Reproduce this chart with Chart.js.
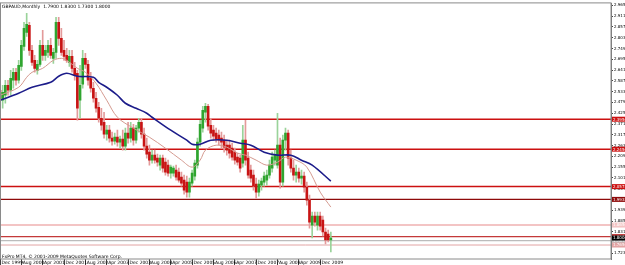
<!DOCTYPE html>
<html><head><meta charset="utf-8">
<script src="https://cdn.jsdelivr.net/npm/chart.js@4.4.0/dist/chart.umd.min.js"></script>
<style>html,body{margin:0;padding:0;background:#fff;}canvas{display:block;}</style>
</head><body>
<canvas id="c" width="625" height="265"></canvas>
<script>
const symbolTitle = 'GBPAUD,Monthly  1.7900 1.8300 1.7300 1.8000';
const footerText = 'FxPro MT4, \u00A9 2001-2009 MetaQuotes Software Corp.';
const monthNames = ['Jan','Feb','Mar','Apr','May','Jun','Jul','Aug','Sep','Oct','Nov','Dec'];
const months = [];
for (let k = 0; k < 230; k++) { const m = (11 + k) % 12; const yr = 1999 + Math.floor((11 + k) / 12); months.push(monthNames[m] + ' ' + yr); }

const open = [2.540,2.490,2.515,2.565,2.540,2.590,2.630,2.590,2.660,2.760,
2.830,2.865,2.740,2.690,2.640,2.670,2.765,2.715,2.730,2.765,
2.700,2.730,2.880,2.800,2.740,2.715,2.680,2.710,2.650,2.625,
2.490,2.570,2.700,2.670,2.600,2.550,2.500,2.455,2.400,2.380,
2.320,2.340,2.300,2.285,2.305,2.280,2.295,2.260,2.325,2.300,
2.350,2.290,2.350,2.380,2.320,2.260,2.230,2.190,2.215,2.200,
2.165,2.200,2.180,2.165,2.125,2.125,2.140,2.130,2.105,2.090,
2.080,2.030,2.075,2.110,2.165,2.280,2.350,2.430,2.460,2.365,
2.340,2.325,2.315,2.300,2.290,2.265,2.265,2.250,2.230,2.205,
2.200,2.175,2.290,2.200,2.140,2.115,2.070,2.030,2.065,2.080,
2.090,2.115,2.150,2.190,2.165,2.265,2.080,2.290,2.325,2.200,
2.150,2.115,2.130,2.100,2.110,2.055,1.990,1.865,1.910,1.865,
1.910,1.890,1.830,1.820,1.790];
const high = [2.630,2.565,2.590,2.590,2.640,2.650,2.650,2.690,2.790,2.880,
2.925,2.880,2.765,2.715,2.690,2.790,2.840,2.765,2.790,2.800,
2.750,2.905,2.905,2.850,2.790,2.750,2.740,2.740,2.680,2.640,
2.665,2.740,2.725,2.690,2.630,2.580,2.530,2.480,2.450,2.430,
2.365,2.365,2.330,2.325,2.340,2.310,2.340,2.350,2.380,2.380,
2.370,2.365,2.400,2.400,2.350,2.300,2.265,2.240,2.240,2.220,
2.215,2.215,2.200,2.190,2.165,2.160,2.165,2.150,2.130,2.115,
2.110,2.100,2.140,2.190,2.300,2.390,2.460,2.475,2.470,2.400,
2.365,2.350,2.340,2.330,2.315,2.290,2.290,2.275,2.250,2.225,
2.215,2.365,2.390,2.230,2.165,2.140,2.100,2.090,2.100,2.130,
2.140,2.190,2.230,2.240,2.425,2.300,2.315,2.350,2.340,2.240,
2.190,2.165,2.150,2.140,2.130,2.080,2.015,1.930,1.930,1.930,
1.930,1.910,1.850,1.840,1.830];
const low = [2.465,2.450,2.475,2.515,2.515,2.550,2.565,2.575,2.640,2.740,
2.810,2.715,2.665,2.630,2.620,2.660,2.690,2.690,2.705,2.700,
2.675,2.700,2.765,2.715,2.690,2.680,2.660,2.630,2.590,2.390,
2.400,2.550,2.650,2.565,2.530,2.480,2.430,2.380,2.340,2.300,
2.290,2.280,2.265,2.270,2.260,2.250,2.240,2.240,2.275,2.280,
2.265,2.275,2.330,2.300,2.240,2.200,2.165,2.175,2.175,2.160,
2.140,2.130,2.115,2.110,2.100,2.110,2.090,2.080,2.060,2.020,
2.005,2.005,2.060,2.090,2.150,2.260,2.330,2.380,2.340,2.300,
2.290,2.280,2.265,2.250,2.230,2.215,2.200,2.190,2.170,2.165,
2.130,2.155,2.165,2.100,2.080,2.040,2.000,2.010,2.040,2.060,
2.065,2.100,2.130,2.165,2.150,2.050,2.060,2.240,2.165,2.130,
2.090,2.080,2.080,2.070,2.030,1.965,1.850,1.800,1.860,1.840,
1.840,1.810,1.770,1.780,1.730];
const close = [2.500,2.530,2.565,2.540,2.600,2.630,2.590,2.665,2.765,2.850,
2.870,2.740,2.680,2.650,2.670,2.765,2.715,2.740,2.765,2.715,
2.730,2.880,2.800,2.730,2.710,2.690,2.710,2.650,2.615,2.450,
2.565,2.700,2.670,2.590,2.550,2.500,2.450,2.400,2.365,2.320,
2.340,2.300,2.285,2.305,2.280,2.295,2.260,2.325,2.300,2.350,
2.290,2.350,2.380,2.320,2.260,2.220,2.190,2.215,2.190,2.180,
2.200,2.150,2.130,2.125,2.155,2.150,2.105,2.090,2.075,2.040,
2.030,2.080,2.125,2.175,2.280,2.370,2.440,2.460,2.360,2.325,
2.310,2.295,2.290,2.280,2.255,2.240,2.225,2.205,2.190,2.180,
2.150,2.290,2.190,2.115,2.100,2.060,2.030,2.070,2.085,2.110,
2.115,2.165,2.205,2.215,2.265,2.080,2.290,2.325,2.200,2.150,
2.115,2.130,2.100,2.110,2.055,1.990,1.880,1.910,1.880,1.910,
1.860,1.830,1.790,1.790,1.800];

const maSlowIdx = [0,7,12,19,22,25,29,35,37,40,44,47,51,55,57,64,70,72,75,79,85,90,94,99,104,109,113,117,124];
const maSlowVal = [2.490,2.525,2.555,2.580,2.610,2.625,2.610,2.605,2.580,2.555,2.515,2.475,2.450,2.425,2.405,2.340,2.290,2.270,2.270,2.290,2.290,2.275,2.265,2.230,2.215,2.215,2.190,2.165,2.085];
const maFastIdx = [0,7,10,12,16,20,23,25,29,32,36,40,44,50,56,62,68,72,75,77,81,85,89,92,96,100,104,107,111,115,120,124];
const maFastVal = [2.515,2.555,2.605,2.630,2.650,2.690,2.700,2.690,2.650,2.630,2.575,2.490,2.405,2.350,2.305,2.250,2.190,2.155,2.190,2.240,2.265,2.255,2.225,2.215,2.190,2.165,2.180,2.205,2.190,2.155,2.030,1.955];

const levels = [2.3950, 2.2450, 2.0575, 1.9935, 1.8650, 1.8075, 1.7870, 1.7650];
const yTicks = [2.9650,2.9110,2.8570,2.8030,2.7490,2.6950,2.6410,2.5870,2.5330,2.4790,2.4250,2.3710,2.3170,2.2630,2.2090,2.1550,2.1010,2.0470,1.9930,1.9390,1.8850,1.8310,1.7770,1.7230];

// styles
const levelStyle = [
  {c:'#cc1010', w:1.5}, {c:'#cc1010', w:1.5}, {c:'#cc1010', w:1.5}, {c:'#8e0a0a', w:1.3},
  {c:'#f3c4c4', w:2}, {c:'#c43a3a', w:1.3}, {c:'#bcbcbc', w:1.2}, {c:'#e2a4a4', w:1}
];
const UP = '#2fa52f', DOWN = '#c81414', UPW = '#9ad39a', DOWNW = '#e39a9a';
const FONT = 'DejaVu Sans';
const lastBar = close.length - 1;

const n = months.length;
function sparse(idx, val) { const a = new Array(n).fill(null); idx.forEach((k, j) => { a[k] = val[j]; }); return a; }
const isUp = open.map((o, i) => close[i] >= o);
const showLabel = i => i % 8 === 0 && i <= lastBar;

const overlay = {
  id: 'overlay',
  beforeDatasetsDraw(chart) {
    const {ctx, chartArea: a, scales: {y}} = chart;
    ctx.save();
    levels.forEach((v, i) => {
      const py = y.getPixelForValue(v);
      ctx.strokeStyle = levelStyle[i].c; ctx.lineWidth = levelStyle[i].w;
      ctx.beginPath(); ctx.moveTo(a.left, py); ctx.lineTo(a.right, py); ctx.stroke();
    });
    ctx.restore();
  },
  afterDraw(chart) {
    const {ctx, chartArea: a, scales: {y}} = chart;
    ctx.save();
    ctx.strokeStyle = '#8a8a8a'; ctx.lineWidth = 1;
    ctx.strokeRect(a.left + 0.5, a.top - 0.5, a.right - a.left - 0.5, a.bottom - a.top + 0.5);
    ctx.font = '4px "' + FONT + '"'; ctx.textBaseline = 'middle'; ctx.textAlign = 'left';
    levels.forEach((v, i) => {
      const py = y.getPixelForValue(v);
      ctx.fillStyle = levelStyle[i].c;
      ctx.fillRect(a.right + 1, py - 2.5, 13, 5);
      ctx.fillStyle = '#fff';
      ctx.fillText(v.toFixed(4), a.right + 2, py + 0.3);
    });
    const last = close[lastBar];
    const pl = y.getPixelForValue(last);
    ctx.fillStyle = '#000'; ctx.fillRect(a.right + 1, pl - 2.5, 13, 5);
    ctx.fillStyle = '#fff'; ctx.fillText(last.toFixed(4), a.right + 2, pl + 0.3);
    ctx.fillStyle = '#000'; ctx.font = '4.5px "' + FONT + '"'; ctx.textBaseline = 'top';
    ctx.fillText(symbolTitle, a.left + 2, a.top + 1.5);
    ctx.textBaseline = 'middle';
    ctx.fillText(footerText, a.left + 2, a.bottom - 2.5);
    ctx.restore();
  }
};

new Chart(document.getElementById('c'), {
  type: 'bar',
  data: {
    labels: months,
    datasets: [
      { label: 'wick', data: low.map((l, i) => [l, high[i]]), backgroundColor: isUp.map(u => u ? UPW : DOWNW), barThickness: 1, grouped: false, order: 4 },
      { label: 'body', data: open.map((o, i) => [o, close[i]]), backgroundColor: isUp.map(u => u ? UP : DOWN), barThickness: 2, grouped: false, order: 3, minBarLength: 1 },
      { type: 'line', label: 'fast', data: sparse(maFastIdx, maFastVal), borderColor: '#d49a90', borderWidth: 1, pointRadius: 0, spanGaps: true, tension: 0.35, order: 2 },
      { type: 'line', label: 'slow', data: sparse(maSlowIdx, maSlowVal), borderColor: '#1c1c8a', borderWidth: 1.6, pointRadius: 0, spanGaps: true, tension: 0.35, order: 1 }
    ]
  },
  options: {
    responsive: false, animation: false, events: [],
    layout: { padding: { top: 3, left: 0, right: 0, bottom: 0 } },
    plugins: { legend: { display: false }, tooltip: { enabled: false }, title: { display: false } },
    scales: {
      x: {
        type: 'category', offset: false,
        grid: { display: true, drawOnChartArea: false, drawTicks: true, tickLength: 6, offset: false,
                color: ctx => (showLabel(ctx.index) ? '#444' : 'rgba(0,0,0,0)') },
        border: { display: false },
        ticks: { autoSkip: false, maxRotation: 0, minRotation: 0, align: 'start', padding: -5,
                 font: { size: 4.5, family: FONT }, color: '#000',
                 callback: (v, i) => (showLabel(i) ? ' ' + months[i] : '') },
        afterFit: s => { s.height = 6; }
      },
      y: {
        type: 'linear', position: 'right', min: 1.695, max: 2.975,
        afterBuildTicks: s => { s.ticks = yTicks.map(v => ({ value: v })); },
        grid: { drawOnChartArea: false, drawTicks: true, tickLength: 2, color: '#444' },
        border: { display: true, color: '#777' },
        ticks: { autoSkip: false, padding: 1, font: { size: 4, family: FONT }, color: '#000',
                 callback: v => Number(v).toFixed(4) },
        afterFit: s => { s.width = 14; }
      }
    }
  },
  plugins: [overlay]
});
</script>
</body></html>
